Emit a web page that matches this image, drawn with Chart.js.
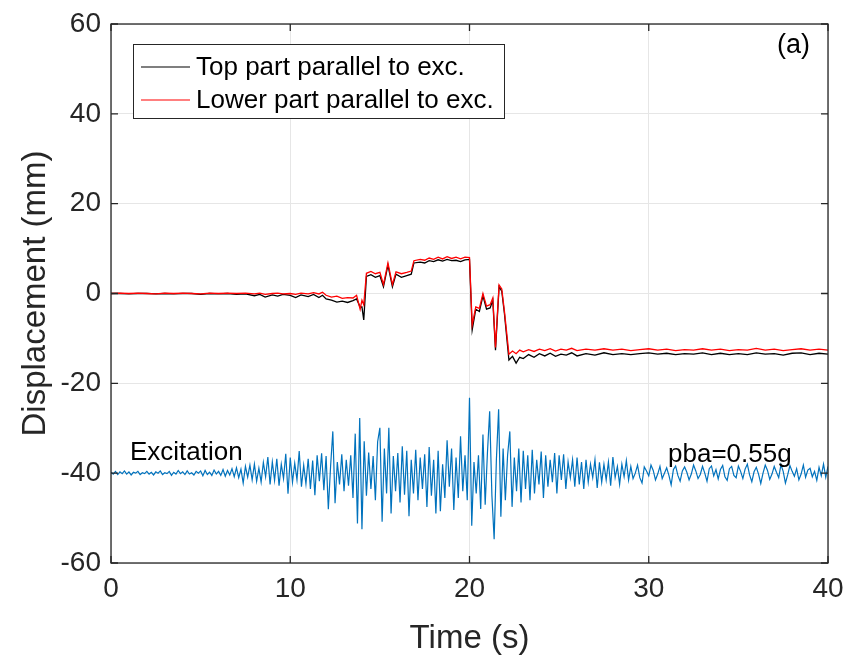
<!DOCTYPE html>
<meta charset="utf-8">
<style>
html, body {
  margin: 0;
  background: #fff;
}

.wrap {
  width: 848px;
  height: 659px;
}
</style>
<body>

<div class="wrap"><canvas id="chart" width="848" height="659"></canvas></div>

<script src="https://cdn.jsdelivr.net/npm/chart.js@4/dist/chart.umd.min.js"></script>
<script>
"use strict";

/* global Chart */

// excitation trace, sampled every 0.125 s from t = 0 (one row per second)
var excStep = 0.125;
var excValues = [
  -39.8, -40.2, -39.6, -40.3, -39.7, -40.1, -39.5, -40.2,
  -39.7, -40.4, -39.8, -40.0, -39.6, -40.3, -39.9, -40.1,
  -39.6, -40.2, -39.8, -40.4, -39.7, -40.0, -39.5, -40.3,
  -39.9, -40.1, -39.6, -40.5, -39.8, -40.2, -39.4, -40.1,
  -39.7, -40.3, -39.5, -40.2, -39.9, -40.4, -39.6, -40.0,
  -39.5, -40.6, -39.4, -40.3, -39.8, -40.5, -39.3, -40.2,
  -39.6, -40.5, -39.2, -40.7, -39.4, -40.4, -39.0, -40.8,
  -38.8, -41.0, -39.1, -42.2, -38.5, -40.9, -38.2, -41.5,
  -38.0, -41.8, -38.9, -42.0, -37.6, -40.8, -36.4, -42.5,
  -37.5, -41.6, -36.8, -42.8, -38.0, -41.2, -35.7, -44.6,
  -36.5, -42.0, -37.8, -41.5, -35.1, -43.0, -38.2, -42.4,
  -36.8, -43.5, -37.2, -44.9, -36.0, -41.8, -35.6, -43.8,
  -36.2, -48.0, -38.5, -30.7, -46.7, -37.5, -42.5, -35.8,
  -44.0, -37.0, -42.8, -36.0, -45.5, -31.2, -51.2, -27.7,
  -52.5, -32.9, -45.0, -35.4, -43.5, -36.2, -46.0, -33.0,
  -29.9, -50.8, -34.5, -44.5, -29.9, -49.0, -36.2, -44.0,
  -35.5, -46.5, -34.0, -44.8, -35.0, -49.6, -37.0, -44.5,
  -34.8, -46.0, -36.5, -43.5, -35.8, -47.5, -34.2, -45.0,
  -37.0, -49.0, -35.0, -48.5, -38.0, -45.5, -32.7, -43.0,
  -34.5, -48.2, -36.5, -45.5, -31.8, -44.0, -36.0, -46.0,
  -23.2, -51.7, -37.5, -44.5, -36.0, -48.0, -31.4, -47.0,
  -35.5, -26.2, -45.0, -54.7, -37.0, -25.8, -49.7, -34.5,
  -46.0, -36.0, -30.7, -47.5, -36.5, -44.0, -34.5, -46.5,
  -35.0, -43.5, -36.0, -46.0, -34.8, -44.5, -37.0, -42.5,
  -35.2, -45.5, -36.0, -43.0, -37.0, -42.0, -35.5, -44.5,
  -36.0, -41.5, -35.8, -43.5, -37.5, -41.0, -37.0, -43.0,
  -36.5, -42.5, -37.5, -43.5, -37.0, -42.0, -38.0, -41.0,
  -37.0, -43.3, -37.6, -42.0, -38.0, -41.5, -37.5, -42.8,
  -36.4, -41.0, -38.5, -42.5, -38.0, -40.8, -37.2, -41.5,
  -38.5, -41.2, -40.0, -38.2, -41.0, -42.2, -38.6, -39.5,
  -40.6, -38.2, -39.4, -41.5, -40.2, -38.5, -41.2, -40.0,
  -38.8, -40.5, -42.6, -39.2, -38.4, -40.5, -41.8, -39.5,
  -38.6, -39.8, -41.5, -40.2, -38.2, -39.5, -41.2, -40.3,
  -38.5, -40.0, -41.8, -39.0, -38.4, -40.6, -39.2, -41.3,
  -39.2, -38.3, -40.8, -41.6, -39.0, -38.5, -40.5, -41.0,
  -38.4, -39.6, -41.2, -39.1, -38.0, -40.4, -41.9, -39.7,
  -38.7, -40.2, -42.3, -40.0, -38.2, -39.4, -41.4, -40.2,
  -38.5, -39.8, -41.0, -38.1, -39.6, -42.2, -40.4, -38.3,
  -39.6, -40.7, -39.0, -41.5, -40.2, -38.2, -40.9, -39.3,
  -38.9, -40.8, -39.6, -41.6, -38.7, -40.6, -38.0, -40.9,
  -38.5
];

// displacement traces share one time base
var dispTime = [
  0, 0.5, 1, 1.5, 2, 2.5, 3, 3.5, 4, 4.5, 5, 5.5, 6, 6.5, 7, 7.5,
  8, 8.3, 8.6, 9, 9.3, 9.6, 10, 10.3, 10.6, 11, 11.3, 11.6, 11.8,
  12, 12.3, 12.6, 12.9, 13.2, 13.5, 13.7, 13.9, 14.0, 14.1,
  14.25, 14.5, 14.75, 15.0, 15.2, 15.45, 15.7, 15.9, 16.2, 16.5, 16.75, 16.9,
  17.25, 17.5, 17.75, 18.0, 18.25, 18.5, 18.75, 19.0, 19.25, 19.5, 19.75, 20.0,
  20.15, 20.35, 20.55, 20.75, 20.95, 21.15, 21.3, 21.45, 21.65, 21.8, 21.95,
  22.2, 22.4, 22.6, 22.8, 23.0, 23.3, 23.6, 23.9, 24.2, 24.5, 24.8, 25.1, 25.4, 25.7,
  26.0, 26.5, 27.0, 27.5, 28.0, 28.5, 29.0, 29.5, 30.0, 30.5, 31.0, 31.5, 32.0,
  32.5, 33.0, 33.5, 34.0, 34.5, 35.0, 35.5, 36.0, 36.5, 37.0, 37.5, 38.0, 38.5,
  39.0, 39.5, 40.0
];

var topDisp = [
  0.0, 0.0, -0.1, 0.0, 0.0, -0.1, 0.0, -0.1, 0.0, 0.0, -0.2, 0.0, -0.1, 0.0, -0.2, -0.1,
  -0.5, -0.2, -0.8, -0.3, -0.6, -0.2, -0.4, -0.9, -0.3, -0.7, -0.2, -0.9, -0.4,
  -1.2, -1.5, -1.9, -1.7, -2.0, -1.6, -1.2, -3.0, -3.0, -5.9,
  3.8, 4.2, 3.6, 4.0, 1.5, 6.3, 1.5, 4.3, 3.6, 4.0, 4.3, 6.8,
  7.0, 6.8, 7.3, 7.1, 7.5, 7.2, 7.6, 7.3, 7.4, 7.1, 7.5, 7.6,
  -8.1, -3.5, -4.0, -0.5, -3.5, -3.2, -1.5, -12.6, 1.5, 0.5, -4.5,
  -14.8, -14.0, -15.5, -14.2, -14.5, -13.6, -14.2, -13.4, -13.9, -13.3, -14.0, -13.5, -13.7, -13.2,
  -13.9, -13.4, -13.7, -13.2, -13.6, -13.4, -13.6, -13.4, -13.2, -13.5, -13.3, -13.6, -13.4,
  -13.5, -13.2, -13.6, -13.3, -13.6, -13.4, -13.6, -13.2, -13.5, -13.4, -13.7, -13.3, -13.2,
  -13.6, -13.3, -13.5
];

var lowerDisp = [
  0.0, 0.1, 0.0, 0.1, 0.0, -0.1, 0.1, 0.0, 0.1, 0.0, -0.1, 0.1, 0.0, 0.1, 0.0, 0.1,
  -0.1, 0.1, -0.2, 0.0, 0.1, -0.1, 0.0, -0.2, 0.1, -0.1, 0.2, -0.1, 0.3,
  -0.4, -0.8, -0.6, -1.1, -0.9, -1.0, -0.4, -3.5, -1.5, -2.5,
  4.5, 4.9, 4.4, 4.7, 2.0, 6.8, 2.0, 4.8, 4.4, 4.7, 5.0, 7.3,
  7.6, 7.4, 7.9, 7.6, 8.1, 7.7, 8.2, 7.8, 8.1, 7.7, 8.1, 8.0,
  -7.0, -3.0, -3.3, 0.0, -2.8, -2.5, -1.0, -12.0, 1.9, 1.0, -4.0,
  -13.5, -12.8, -13.4, -12.6, -13.0, -12.5, -12.9, -12.4, -12.7, -12.3, -12.8, -12.4, -12.6, -12.2,
  -12.7, -12.4, -12.6, -12.3, -12.6, -12.4, -12.7, -12.5, -12.3, -12.6, -12.4, -12.7, -12.5,
  -12.6, -12.3, -12.6, -12.4, -12.7, -12.5, -12.6, -12.2, -12.6, -12.4, -12.7, -12.5, -12.3,
  -12.6, -12.4, -12.6
];

var xTicks = [0, 10, 20, 30, 40];
var yTicks = [-60, -40, -20, 0, 20, 40, 60];

var legendLabels = ["Top part parallel to exc.", "Lower part parallel to exc."];

var AXIS_COLOR = "#262626";
var FONT = "'Liberation Sans', Arial, Helvetica, sans-serif";

var excPoints = excValues.map(function (v, i) {
  return { x: i * excStep, y: v };
});
var topPoints = dispTime.map(function (t, i) {
  return { x: t, y: topDisp[i] };
});
var lowerPoints = dispTime.map(function (t, i) {
  return { x: t, y: lowerDisp[i] };
});

// box, inward ticks, legend and the loose labels
var framePlugin = {
  id: "frame",
  afterDraw: function (chart) {
    var ctx = chart.ctx;
    var a = chart.chartArea;
    var xs = chart.scales.x;
    var ys = chart.scales.y;
    var tick = 7;

    ctx.save();
    ctx.strokeStyle = AXIS_COLOR;
    ctx.lineWidth = 1.3;
    ctx.strokeRect(a.left, a.top, a.right - a.left, a.bottom - a.top);

    ctx.beginPath();
    xTicks.forEach(function (v) {
      var px = xs.getPixelForValue(v);
      ctx.moveTo(px, a.bottom);
      ctx.lineTo(px, a.bottom - tick);
      ctx.moveTo(px, a.top);
      ctx.lineTo(px, a.top + tick);
    });
    yTicks.forEach(function (v) {
      var py = ys.getPixelForValue(v);
      ctx.moveTo(a.left, py);
      ctx.lineTo(a.left + tick, py);
      ctx.moveTo(a.right, py);
      ctx.lineTo(a.right - tick, py);
    });
    ctx.stroke();

    // legend
    var lx = 133.5, ly = 44.5, lw = 371, lh = 74;
    ctx.fillStyle = "#fff";
    ctx.fillRect(lx, ly, lw, lh);
    ctx.lineWidth = 1;
    ctx.strokeRect(lx, ly, lw, lh);

    var colors = ["#000000", "#ff0000"];
    var rows = [67, 100];
    ctx.font = "26px " + FONT;
    ctx.textBaseline = "middle";
    ctx.textAlign = "left";
    legendLabels.forEach(function (label, i) {
      ctx.strokeStyle = colors[i];
      ctx.lineWidth = 1.2;
      ctx.beginPath();
      ctx.moveTo(141, rows[i]);
      ctx.lineTo(190, rows[i]);
      ctx.stroke();
      ctx.fillStyle = "#000";
      ctx.fillText(label, 196, rows[i] + 1);
    });

    ctx.font = "26px " + FONT;
    ctx.fillStyle = "#000";
    ctx.fillText("Excitation", 130, 453);
    ctx.fillText("pba=0.55g", 668, 455);
    ctx.font = "27px " + FONT;
    ctx.fillText("(a)", 777, 46);
    ctx.restore();
  }
};

new Chart(document.getElementById("chart"), {
  type: "line",
  data: {
    datasets: [
      {
        label: legendLabels[1],
        data: lowerPoints,
        borderColor: "#ff0000",
        borderWidth: 1.3,
        pointRadius: 0,
        tension: 0,
        order: 0
      },
      {
        label: legendLabels[0],
        data: topPoints,
        borderColor: "#000000",
        borderWidth: 1.3,
        pointRadius: 0,
        tension: 0,
        order: 1
      },
      {
        label: "Excitation",
        data: excPoints,
        borderColor: "#0072bd",
        borderWidth: 1.2,
        pointRadius: 0,
        tension: 0,
        order: 2
      }
    ]
  },
  options: {
    responsive: false,
    animation: false,
    devicePixelRatio: 1,
    layout: { padding: { top: 24, right: 20, left: 0, bottom: 0 } },
    plugins: {
      legend: { display: false },
      tooltip: { enabled: false }
    },
    scales: {
      x: {
        type: "linear",
        min: 0,
        max: 40,
        afterFit: function (scale) {
          scale.height = 96;
          scale.paddingLeft = 0;
          scale.paddingRight = 0;
        },
        afterBuildTicks: function (scale) {
          scale.ticks = xTicks.map(function (v) { return { value: v }; });
        },
        grid: { color: "#e6e6e6", lineWidth: 1, drawTicks: false },
        border: { display: false },
        ticks: {
          padding: 9,
          maxRotation: 0,
          color: AXIS_COLOR,
          font: { family: FONT, size: 28 }
        },
        title: {
          display: true,
          text: "Time (s)",
          color: AXIS_COLOR,
          font: { family: FONT, size: 33, lineHeight: 1.2 },
          padding: { top: 0, bottom: 0 }
        }
      },
      y: {
        type: "linear",
        min: -60,
        max: 60,
        afterFit: function (scale) {
          scale.width = 111;
          scale.paddingTop = 0;
          scale.paddingBottom = 0;
        },
        afterBuildTicks: function (scale) {
          scale.ticks = yTicks.map(function (v) { return { value: v }; });
        },
        grid: { color: "#e6e6e6", lineWidth: 1, drawTicks: false },
        border: { display: false },
        ticks: {
          padding: 10,
          color: AXIS_COLOR,
          font: { family: FONT, size: 28 }
        },
        title: {
          display: true,
          text: "Displacement (mm)",
          color: AXIS_COLOR,
          font: { family: FONT, size: 33, lineHeight: 1.2 },
          padding: { top: 16, bottom: 0 }
        }
      }
    }
  },
  plugins: [framePlugin]
});
</script>
</body>
